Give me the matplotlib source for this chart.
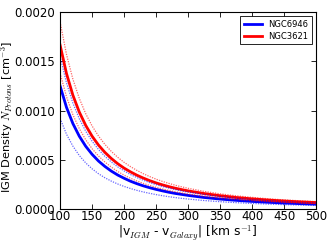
import numpy as np
import matplotlib
matplotlib.use("Agg")
import matplotlib.pyplot as plt

# ==================== Data (density in 1e-3 cm^-3) ====================
v_rel = [100, 110, 120, 130, 140, 150, 160, 170, 180, 190, 200, 210, 220, 230, 240, 250,
         260, 270, 280, 290, 300, 325, 350, 375, 400, 425, 450, 475, 500]

ngc6946 = [1.25, 1.033, 0.868, 0.740, 0.638, 0.556, 0.488, 0.433, 0.386, 0.346, 0.313, 0.283,
           0.258, 0.236, 0.217, 0.200, 0.185, 0.171, 0.159, 0.149, 0.139, 0.118, 0.102, 0.0889,
           0.0781, 0.0692, 0.0617, 0.0554, 0.0500]
ngc6946_hi = [1.55, 1.281, 1.076, 0.917, 0.791, 0.689, 0.605, 0.536, 0.478, 0.429, 0.388, 0.351,
              0.320, 0.293, 0.269, 0.248, 0.229, 0.213, 0.198, 0.184, 0.172, 0.147, 0.127, 0.110,
              0.0969, 0.0858, 0.0765, 0.0687, 0.062]
ngc6946_lo = [0.92, 0.760, 0.639, 0.544, 0.469, 0.409, 0.359, 0.318, 0.284, 0.255, 0.230, 0.209,
              0.190, 0.174, 0.160, 0.147, 0.136, 0.126, 0.117, 0.109, 0.102, 0.0871, 0.0751, 0.0654,
              0.0575, 0.0509, 0.0454, 0.0408, 0.0368]

ngc3621 = [1.665, 1.376, 1.156, 0.985, 0.850, 0.740, 0.650, 0.576, 0.514, 0.461, 0.416, 0.378,
           0.344, 0.315, 0.289, 0.266, 0.246, 0.228, 0.212, 0.198, 0.185, 0.158, 0.136, 0.118,
           0.104, 0.0922, 0.0822, 0.0738, 0.0666]
ngc3621_hi = [1.9, 1.570, 1.319, 1.124, 0.969, 0.844, 0.742, 0.657, 0.586, 0.526, 0.475, 0.431,
              0.393, 0.359, 0.330, 0.304, 0.281, 0.261, 0.242, 0.226, 0.211, 0.180, 0.155, 0.135,
              0.119, 0.105, 0.0938, 0.0842, 0.076]
ngc3621_lo = [1.38, 1.141, 0.958, 0.817, 0.704, 0.613, 0.539, 0.478, 0.426, 0.382, 0.345, 0.313,
              0.285, 0.261, 0.240, 0.221, 0.204, 0.189, 0.176, 0.164, 0.153, 0.131, 0.113, 0.0981,
              0.0863, 0.0764, 0.0681, 0.0612, 0.0552]

# ==================== Plot ====================
plt.rcParams['mathtext.fontset'] = 'cm'
plt.rcParams['font.family'] = 'DejaVu Sans'

fig = plt.figure(figsize=(3.32, 2.46), dpi=100)
ax = fig.add_axes([0.181, 0.150, 0.771, 0.801])

scale = 1e-3
ax.plot(v_rel, np.array(ngc6946) * scale, color='blue', lw=2.0, label='NGC6946')
ax.plot(v_rel, np.array(ngc3621) * scale, color='red', lw=2.0, label='NGC3621')
for lo, hi, c in [(ngc6946_lo, ngc6946_hi, 'blue'), (ngc3621_lo, ngc3621_hi, 'red')]:
    ax.plot(v_rel, np.array(lo) * scale, color=c, lw=0.9, ls=(0, (1, 1)), alpha=0.6)
    ax.plot(v_rel, np.array(hi) * scale, color=c, lw=0.9, ls=(0, (1, 1)), alpha=0.6)

ax.set_xlim(100, 500)
ax.set_ylim(0, 0.002)
ax.set_xticks(np.arange(100, 501, 50))
yt = np.arange(0, 0.00201, 0.0005)
ax.set_yticks(yt)
ax.set_yticklabels(['%.4f' % t for t in yt])
ax.tick_params(direction='in', top=True, right=True, labelsize=8.5, length=3.5, width=0.6)
ax.tick_params(axis='x', pad=1)
for s in ax.spines.values():
    s.set_linewidth(0.8)

ax.set_ylabel(r'IGM Density $N_{Protons}$ [cm$^{-3}$]', fontsize=8.2)
ax.yaxis.set_label_coords(-0.175, 0.47)
ax.set_xlabel(r'|v$_{IGM}$ - v$_{Galaxy}$| [km s$^{-1}$]', fontsize=8.8, labelpad=0)

leg = ax.legend(loc='upper right', fontsize=6, fancybox=False, framealpha=1,
                edgecolor='black', handlelength=2.2, borderpad=0.4, labelspacing=0.4)
leg.get_frame().set_linewidth(0.6)

fig.savefig('out.png', dpi=100)
